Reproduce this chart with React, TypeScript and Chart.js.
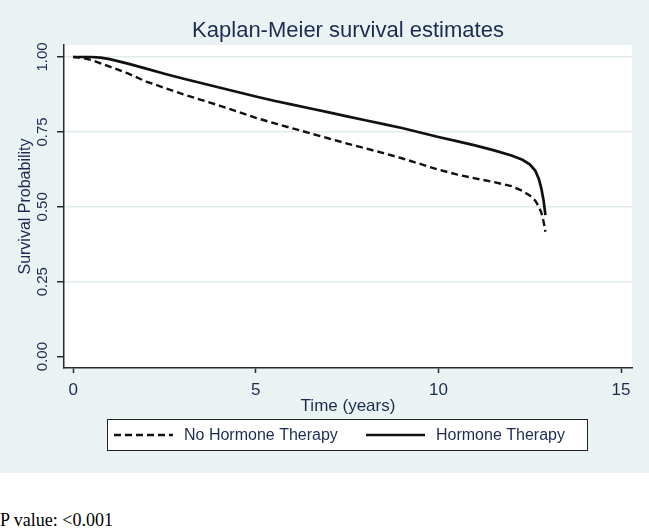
import { useEffect, useRef } from 'react';
import { Chart, registerables } from 'chart.js';

Chart.register(...registerables);

// ---- Data ----
const seriesLabels = ['No Hormone Therapy', 'Hormone Therapy'];

const timeNoHT = [0, 0.25, 0.5, 1.0, 1.5, 2.0, 2.5, 3.0, 3.5, 4.0, 4.5, 5.0, 5.5, 6.0, 6.5, 7.0, 7.5, 8.0, 8.5, 9.0, 9.5, 10.0, 10.5, 11.0, 11.5, 12.0, 12.3, 12.5, 12.65, 12.75, 12.82, 12.88, 12.93];
const survNoHT = [1.0, 0.997, 0.99, 0.968, 0.945, 0.918, 0.897, 0.876, 0.857, 0.838, 0.818, 0.797, 0.779, 0.762, 0.745, 0.728, 0.711, 0.695, 0.679, 0.662, 0.643, 0.624, 0.608, 0.595, 0.583, 0.569, 0.553, 0.538, 0.521, 0.5, 0.48, 0.45, 0.417];

const timeHT = [0, 0.5, 0.75, 1.0, 1.5, 2.0, 2.5, 3.0, 3.5, 4.0, 4.5, 5.0, 5.5, 6.0, 6.5, 7.0, 7.5, 8.0, 8.5, 9.0, 9.5, 10.0, 10.5, 11.0, 11.5, 12.0, 12.3, 12.5, 12.65, 12.75, 12.82, 12.88, 12.93];
const survHT = [1.0, 1.0, 0.998, 0.993, 0.978, 0.961, 0.944, 0.928, 0.913, 0.898, 0.883, 0.868, 0.854, 0.841, 0.828, 0.815, 0.802, 0.789, 0.776, 0.763, 0.748, 0.733, 0.719, 0.705, 0.689, 0.671, 0.657, 0.642, 0.621, 0.593, 0.56, 0.52, 0.472];

const xTickValues = [0, 5, 10, 15];
const yTickValues = [0, 0.25, 0.5, 0.75, 1.0];

const titleText = 'Kaplan-Meier survival estimates';
const xTitle = 'Time (years)';
const yTitle = 'Survival Probability';

const FONT = '"Liberation Sans", Arial, sans-serif';
const NAVY = '#1c2b52';
const AXIS = '#2a2a2a';

export default function App() {
  const canvasRef = useRef<HTMLCanvasElement | null>(null);

  useEffect(() => {
    const canvas = canvasRef.current;
    if (!canvas) return;

    const toPoints = (xs: number[], ys: number[]) => xs.map((x, i) => ({ x, y: ys[i] }));

    const backgroundPlugin = {
      id: 'plotBackground',
      beforeDraw(chart: any) {
        const { ctx, chartArea } = chart;
        ctx.save();
        ctx.fillStyle = '#ffffff';
        ctx.fillRect(chartArea.left, chartArea.top, chartArea.right - chartArea.left, chartArea.bottom - chartArea.top);
        ctx.restore();
      },
    };

    const titlePlugin = {
      id: 'stataTitle',
      afterDraw(chart: any) {
        const { ctx, chartArea } = chart;
        ctx.save();
        ctx.font = `22px ${FONT}`;
        ctx.fillStyle = NAVY;
        ctx.textAlign = 'center';
        ctx.textBaseline = 'middle';
        ctx.fillText(titleText, (chartArea.left + chartArea.right) / 2, 31);
        ctx.restore();
      },
    };

    const legendPlugin = {
      id: 'stataLegend',
      afterDraw(chart: any) {
        const { ctx, chartArea } = chart;
        const left = chartArea.left + 43;
        const right = chartArea.right - 44;
        const top = chartArea.bottom + 51;
        const bottom = top + 32;
        const midY = (top + bottom) / 2;
        ctx.save();
        ctx.fillStyle = '#ffffff';
        ctx.fillRect(left, top, right - left, bottom - top);
        ctx.strokeStyle = '#222';
        ctx.lineWidth = 1;
        ctx.strokeRect(left + 0.5, top + 0.5, right - left - 1, bottom - top - 1);

        const items = [
          { x: left + 7, ds: chart.data.datasets[0] },
          { x: left + 259, ds: chart.data.datasets[1] },
        ];
        ctx.font = `16px ${FONT}`;
        ctx.textBaseline = 'middle';
        ctx.textAlign = 'left';
        items.forEach((it) => {
          ctx.save();
          ctx.strokeStyle = it.ds.borderColor;
          ctx.lineWidth = it.ds.borderWidth;
          ctx.setLineDash(it.ds.borderDash || []);
          ctx.beginPath();
          ctx.moveTo(it.x, midY);
          ctx.lineTo(it.x + 59, midY);
          ctx.stroke();
          ctx.restore();
          ctx.fillStyle = NAVY;
          ctx.fillText(it.ds.label, it.x + 70, midY + 1);
        });
        ctx.restore();
      },
    };

    const chart = new Chart(canvas, {
      type: 'line',
      data: {
        datasets: [
          {
            label: seriesLabels[0],
            data: toPoints(timeNoHT, survNoHT),
            borderColor: '#111111',
            borderWidth: 2.4,
            borderDash: [7, 4],
            pointRadius: 0,
            tension: 0,
            fill: false,
          },
          {
            label: seriesLabels[1],
            data: toPoints(timeHT, survHT),
            borderColor: '#111111',
            borderWidth: 2.7,
            borderDash: [],
            pointRadius: 0,
            tension: 0,
            fill: false,
          },
        ],
      },
      options: {
        animation: false,
        responsive: true,
        maintainAspectRatio: false,
        layout: { padding: { top: 45, right: 17, bottom: 56.8, left: 0 } },
        plugins: {
          legend: { display: false },
          title: { display: false },
          tooltip: { enabled: false },
        },
        scales: {
          x: {
            type: 'linear',
            min: -0.25,
            max: 15.3,
            afterBuildTicks: (scale: any) => {
              scale.ticks = xTickValues.map((v) => ({ value: v }));
            },
            afterFit: (scale: any) => {
              scale.height = 48.2;
            },
            ticks: {
              font: { family: FONT, size: 17 },
              color: NAVY,
              padding: 7,
              maxRotation: 0,
              minRotation: 0,
              callback: (v: any) => String(v),
            },
            grid: {
              drawOnChartArea: false,
              drawTicks: true,
              tickLength: 5,
              tickColor: AXIS,
              tickWidth: 1.5,
            },
            border: { display: true, color: AXIS, width: 1.5 },
            title: {
              display: true,
              text: xTitle,
              font: { family: FONT, size: 17 },
              color: NAVY,
              padding: { top: 0, bottom: 0 },
            },
          },
          y: {
            type: 'linear',
            min: -0.038,
            max: 1.04,
            afterBuildTicks: (scale: any) => {
              scale.ticks = yTickValues.map((v) => ({ value: v }));
            },
            afterFit: (scale: any) => {
              scale.width = 64;
            },
            ticks: {
              font: { family: FONT, size: 15 },
              color: NAVY,
              padding: 0,
              minRotation: 90,
              maxRotation: 90,
              crossAlign: 'center',
              callback: (v: any) => Number(v).toFixed(2),
            },
            grid: {
              drawOnChartArea: true,
              drawTicks: true,
              tickLength: 7,
              color: (ctx: any) => (ctx.tick && ctx.tick.value === 0 ? 'rgba(0,0,0,0)' : '#e2ebee'),
              lineWidth: 1.5,
              tickColor: AXIS,
              tickWidth: 1.5,
            },
            border: { display: true, color: AXIS, width: 1.5 },
            title: {
              display: true,
              text: yTitle,
              font: { family: FONT, size: 16 },
              color: NAVY,
              padding: { top: 16.4, bottom: 0 },
            },
          },
        },
      } as any,
      plugins: [backgroundPlugin, titlePlugin, legendPlugin],
    });

    return () => {
      chart.destroy();
    };
  }, []);

  return (
    <div style={{ position: 'absolute', left: 0, top: 0, width: 649, height: 528, background: '#ffffff' }}>
      <div style={{ position: 'absolute', left: 0, top: 0, width: 649, height: 473, background: '#eaf2f3' }}>
        <canvas ref={canvasRef} />
      </div>
      <div
        style={{
          position: 'absolute',
          left: 0,
          top: 511,
          fontFamily: '"Liberation Serif", "Times New Roman", serif',
          fontSize: 18,
          lineHeight: '18px',
          color: '#000',
          whiteSpace: 'nowrap',
        }}
      >
        P value: &lt;0.001
      </div>
    </div>
  );
}
